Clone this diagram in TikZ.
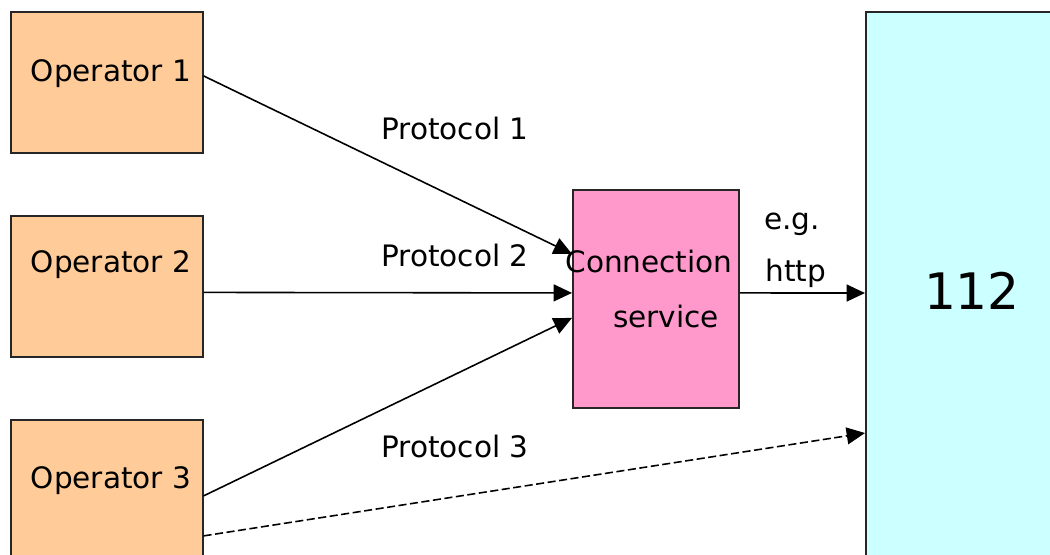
\documentclass[tikz,border=0pt]{standalone}
\usepackage{fontspec}
\setmainfont{DejaVu Sans}
\usetikzlibrary{arrows.meta}

\definecolor{opfill}{RGB}{255,204,153}
\definecolor{connfill}{RGB}{255,153,204}
\definecolor{emfill}{RGB}{204,255,255}

\begin{document}
\begin{tikzpicture}[x=0.01cm, y=-0.01cm,
    box/.style={draw=black!85, line width=0.5pt, inner sep=0pt, anchor=north west},
    opbox/.style={box, fill=opfill, minimum width=1.917cm, minimum height=1.41cm},
    txt/.style={anchor=base, inner sep=0pt, font=\fontsize{8.4}{10}\selectfont},
    link/.style={line width=0.45pt, -{Triangle[length=5.2pt,width=4.8pt]}}]
  \useasboundingbox (0,0) rectangle (1050,555);
  \clip (0,0) rectangle (1050,555);

  % operators on the left
  \node[opbox] (op1) at (10,11) {};
  \node[opbox] (op2) at (10,215) {};
  \node[opbox] (op3) at (10,419) {};
  \node[txt] (op1-lbl) at (111,82) {Operator 1};
  \node[txt] (op2-lbl) at (111,273) {Operator 2};
  \node[txt] (op3-lbl) at (111,489) {Operator 3};

  % connection service and the 112 side
  \node[box, fill=connfill, minimum width=1.66cm, minimum height=2.18cm] (conn) at (572,189) {};
  \node[box, fill=emfill, minimum width=2.2cm, minimum height=5.62cm] (em) at (865,11) {};
  \node[txt] (conn-lbl1) at (649,273) {Connection};
  \node[txt] (conn-lbl2) at (666,328) {service};
  \node[txt, font=\fontsize{14.3}{16}\selectfont] (em-lbl) at (972,310) {112};

  \draw[link] ([shift={(0,-6.5)}]op1.east) -- ([shift={(0,-45)}]conn.west);
  \draw[link] ([shift={(0,6)}]op2.east) -- ([shift={(0,-6)}]conn.west);
  \draw[link] ([shift={(0,5.5)}]op3.east) -- ([shift={(0,19)}]conn.west);
  \draw[link, dash pattern=on 2.3pt off 1pt] ([shift={(0,45.5)}]op3.east) -- ([shift={(0,140)}]em.west);
  \draw[link] ([shift={(0,-6)}]conn.east) -- (em.west);

  \node[txt] (proto1) at (455,140) {Protocol 1};
  \node[txt] (proto2) at (455,267) {Protocol 2};
  \node[txt] (proto3) at (455,458) {Protocol 3};
  \node[txt] (eg) at (792,230) {e.g.};
  \node[txt] (http) at (796,282) {http};
\end{tikzpicture}
\end{document}
